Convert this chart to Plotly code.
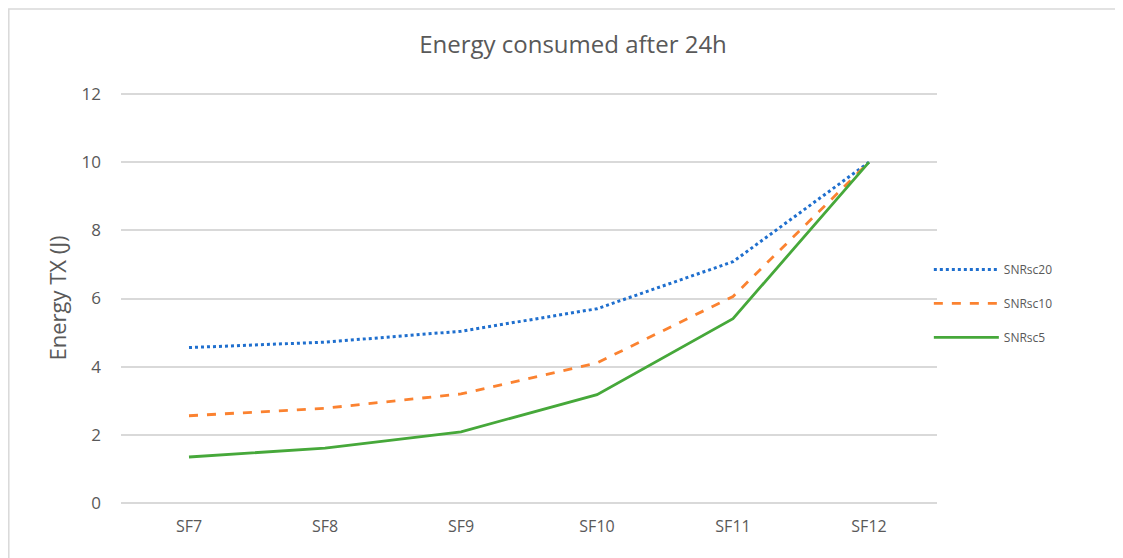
import plotly.graph_objects as go

categories = ["SF7", "SF8", "SF9", "SF10", "SF11", "SF12"]
snr20 = [4.56, 4.72, 5.04, 5.70, 7.08, 10.0]
snr10 = [2.56, 2.78, 3.20, 4.11, 6.06, 10.0]
snr5 = [1.35, 1.61, 2.09, 3.18, 5.41, 10.0]
y_ticks = [0, 2, 4, 6, 8, 10, 12]

fig = go.Figure()
fig.add_trace(go.Scatter(x=categories, y=snr20, name="SNRsc20", mode="lines", legendgroup="a",
                         line=dict(color="#1f6fce", width=3, dash="dot")))
fig.add_trace(go.Scatter(x=categories, y=snr10, name="SNRsc10", mode="lines", legendgroup="b",
                         line=dict(color="#fb8230", width=2.8, dash="dash")))
fig.add_trace(go.Scatter(x=categories, y=snr5, name="SNRsc5", mode="lines", legendgroup="c",
                         line=dict(color="#46a83a", width=2.8)))

fig.update_layout(
    width=1123, height=558,
    margin=dict(l=113, r=194, t=85, b=63),
    paper_bgcolor="white", plot_bgcolor="white",
    title=dict(text="Energy consumed after 24h", x=(573 - 8) / 1123, xanchor="center",
               xref="container", y=1 - 37 / 558, yanchor="middle",
               font=dict(family="Open Sans", size=24, color="#595959")),
    xaxis=dict(type="category", showgrid=False, showline=False, ticks="",
               ticklabelstandoff=12,
               tickfont=dict(family="Open Sans", size=16, color="#595959"),
               range=[-0.5, 5.5]),
    yaxis=dict(range=[0, 12.03], tickvals=y_ticks, showgrid=True, gridcolor="#d9d9d9",
               gridwidth=1.5, zeroline=True, zerolinecolor="#d9d9d9", zerolinewidth=1.5,
               showline=False, ticks="", ticklabelstandoff=19,
               tickfont=dict(family="Open Sans", size=17, color="#595959"),
               title=dict(text="Energy TX (J)", standoff=8,
                          font=dict(family="Open Sans", size=22, color="#595959"))),
    legend=dict(x=0.99, y=0.605, xanchor="left", yanchor="top",
                font=dict(family="Open Sans", size=12, color="#595959"),
                itemwidth=65, tracegroupgap=15, bgcolor="rgba(0,0,0,0)"),
    showlegend=True,
)
fig.add_shape(type="rect", xref="paper", yref="paper",
              x0=(8.8 - 121) / 816, x1=1.4, y0=-0.3, y1=(503 - 9) / 410,
              line=dict(color="#d9d9d9", width=1.5), fillcolor="rgba(0,0,0,0)", layer="below")

fig.write_html("out.html")
